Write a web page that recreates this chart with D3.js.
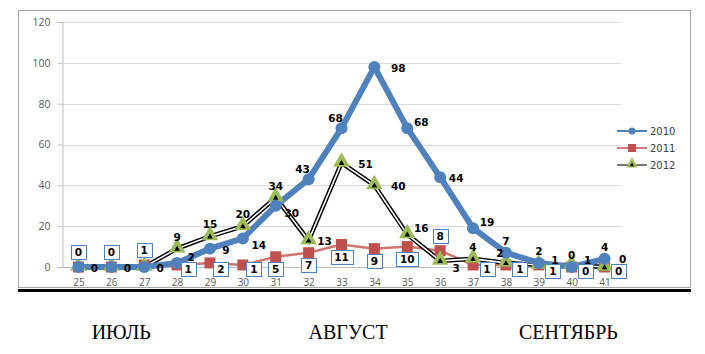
<!DOCTYPE html>
<html>
<head>
<meta charset="utf-8">
<script src="https://cdn.jsdelivr.net/npm/d3@7"></script>
<style>
  body { margin: 0; background: #fff; }
  svg text { font-family: "DejaVu Sans", Verdana, sans-serif; }
</style>
</head>
<body>
<div id="chart"></div>
<script>
// data
var weeks = [25, 26, 27, 28, 29, 30, 31, 32, 33, 34, 35, 36, 37, 38, 39, 40, 41];
var y2010 = [0, 0, 0, 2, 9, 14, 30, 43, 68, 98, 68, 44, 19, 7, 2, 0, 4];
var y2011 = [0, 0, 1, 1, 2, 1, 5, 7, 11, 9, 10, 8, 1, 1, 1, 0, 0];
var y2012 = [0, 0, 0, 9, 15, 20, 34, 13, 51, 40, 16, 3, 4, 2, 1, 1, 0];
var yTicks = [0, 20, 40, 60, 80, 100, 120];
var seriesNames = ["2010", "2011", "2012"];
var months = ["ИЮЛЬ", "АВГУСТ", "СЕНТЯБРЬ"];
var monthWeeks = [26.3, 33.2, 39.9];

// where each data label sits relative to its point
var pos2010 = ["n", "n", "n", "ar", "r", "br", "br", "al", "al", "rr", "ar", "r", "ar", "a", "a", "a", "a"];
var pos2011 = ["a", "a", "a", "br", "br", "br", "b", "b", "b", "b", "b", "a", "br", "br", "br", "br", "br"];
var pos2012 = ["r", "r", "r", "a", "a", "a", "a", "r", "rr", "rr", "ar", "br", "a", "al", "ru", "ru", "rx"];

var W = 705, H = 354;

var svg = d3.select("#chart").append("svg")
    .attr("width", W)
    .attr("height", H);

var x = d3.scalePoint()
    .domain(weeks)
    .range([62, 621])
    .padding(0.5);

var y = d3.scaleLinear()
    .domain([0, 120])
    .range([267, 22]);

// outer frame
svg.append("rect")
    .attr("x", 18.5).attr("y", 10.5)
    .attr("width", 672).attr("height", 277)
    .attr("fill", "#fff")
    .attr("stroke", "#a6a6a6");

svg.append("line")
    .attr("x1", 18).attr("x2", 691)
    .attr("y1", 290.5).attr("y2", 290.5)
    .attr("stroke", "#000")
    .attr("stroke-width", 3);

// grid
svg.append("g")
    .selectAll("line")
    .data(yTicks.slice(1))
    .enter().append("line")
    .attr("x1", 62).attr("x2", 621)
    .attr("y1", function (d) { return Math.round(y(d)) + 0.5; })
    .attr("y2", function (d) { return Math.round(y(d)) + 0.5; })
    .attr("stroke", "#d9d9d9")
    .attr("stroke-width", 1.2);

// y axis
var yAxis = svg.append("g")
    .attr("transform", "translate(62.5,0)")
    .call(d3.axisLeft(y).tickValues(yTicks).tickSize(5).tickPadding(7));
yAxis.select(".domain").attr("stroke", "#bfbfbf");
yAxis.selectAll(".tick line").attr("stroke", "#bfbfbf");
yAxis.selectAll("text")
    .attr("fill", "#595959")
    .style("font-family", "'Open Sans', sans-serif")
    .style("font-size", "10.5px");

// x axis
var xAxis = svg.append("g")
    .attr("transform", "translate(0," + (Math.round(y(0)) + 0.5) + ")")
    .call(d3.axisBottom(x).tickSize(0).tickPadding(11));
xAxis.select(".domain").attr("stroke", "#bfbfbf").attr("d", "M62,0H621");
xAxis.selectAll("text")
    .attr("fill", "#595959")
    .style("font-family", "'Open Sans', sans-serif")
    .style("font-size", "10px");

function pts(vals) {
    return vals.map(function (v, i) { return [x(weeks[i]), y(v)]; });
}
var line = d3.line();

// 2011 (red)
svg.append("path")
    .attr("d", line(pts(y2011)))
    .attr("fill", "none")
    .attr("stroke", "#d07470")
    .attr("stroke-width", 2.5);

// 2012 (double black line)
svg.append("path")
    .attr("d", line(pts(y2012)))
    .attr("fill", "none")
    .attr("stroke", "#000")
    .attr("stroke-width", 4.5);
svg.append("path")
    .attr("d", line(pts(y2012)))
    .attr("fill", "none")
    .attr("stroke", "#fff")
    .attr("stroke-width", 1.6);

// 2010 (blue)
svg.append("path")
    .attr("d", line(pts(y2010)))
    .attr("fill", "none")
    .attr("stroke", "#4f81bd")
    .attr("stroke-width", 6)
    .attr("stroke-linejoin", "round");

// markers
svg.append("g").selectAll("rect")
    .data(y2011)
    .enter().append("rect")
    .attr("x", function (d, i) { return x(weeks[i]) - 5.5; })
    .attr("y", function (d) { return y(d) - 5.5; })
    .attr("width", 11).attr("height", 11)
    .attr("fill", "#c0504d");

var tri = d3.symbol().type(d3.symbolTriangle);
svg.append("g").selectAll("path")
    .data(y2012)
    .enter().append("path")
    .attr("transform", function (d, i) { return "translate(" + x(weeks[i]) + "," + (y(d) - 1) + ")"; })
    .attr("d", tri.size(120)())
    .attr("fill", "#9bbb59");
svg.append("g").selectAll("path")
    .data(y2012)
    .enter().append("path")
    .attr("transform", function (d, i) { return "translate(" + x(weeks[i]) + "," + (y(d) + 0.5) + ")"; })
    .attr("d", tri.size(14)())
    .attr("fill", "#000");

svg.append("g").selectAll("circle")
    .data(y2010)
    .enter().append("circle")
    .attr("cx", function (d, i) { return x(weeks[i]); })
    .attr("cy", function (d) { return y(d); })
    .attr("r", 6)
    .attr("fill", "#4f81bd");

// labels
var off = {
    n: null,
    a: [0, -12], r: [16, 1], rr: [24, 1], ru: [16, -5], rx: [18, -8],
    br: [16, 7], ar: [14, -6], al: [-6, -10], b: [0, 13]
};
function labels(vals, p) {
    var g = svg.append("g");
    vals.forEach(function (v, i) {
        var o = off[p[i]];
        if (!o) return;
        g.append("text")
            .attr("x", x(weeks[i]) + o[0])
            .attr("y", y(v) + o[1] + 4)
            .attr("text-anchor", "middle")
            .style("font-size", "10.5px")
            .style("font-weight", "bold")
            .attr("fill", "#000")
            .text(v);
    });
}
labels(y2010, pos2010);

// boxed 2011 labels
var boff = { a: [0, -15], b: [0, 12], br: [11, 2] };
var bg = svg.append("g");
y2011.forEach(function (v, i) {
    var o = boff[pos2011[i]];
    var dx = (pos2011[i] === "br" && weeks[i] > 36) ? o[0] + 3 : o[0];
    var dy = (pos2011[i] === "br" && weeks[i] > 38) ? o[1] + 2 : o[1];
    var cx = x(weeks[i]) + dx;
    var cy = (pos2011[i] === "br") ? y(0) + dy : y(v) + dy;
    var w = String(v).length > 1 ? 22 : 15;
    bg.append("rect")
        .attr("x", Math.round(cx - w / 2) + 0.5)
        .attr("y", Math.round(cy - 7) + 0.5)
        .attr("width", w).attr("height", 14)
        .attr("fill", "#fff")
        .attr("stroke", "#4f81bd")
        .attr("stroke-width", 1);
    bg.append("text")
        .attr("x", cx).attr("y", cy + 4)
        .attr("text-anchor", "middle")
        .style("font-size", "10.5px")
        .style("font-weight", "bold")
        .text(v);
});

labels(y2012, pos2012);

// legend
var legColors = ["#4f81bd", "#c0504d", "#4a4a4a"];
var leg = svg.append("g");
seriesNames.forEach(function (s, i) {
    var ly = 131 + i * 17;
    leg.append("line")
        .attr("x1", 617).attr("x2", 647)
        .attr("y1", ly).attr("y2", ly)
        .attr("stroke", legColors[i])
        .attr("stroke-width", i === 0 ? 2 : 1.5);
    if (i === 0) {
        leg.append("circle").attr("cx", 632).attr("cy", ly).attr("r", 3.5).attr("fill", "#4f81bd");
    } else if (i === 1) {
        leg.append("rect").attr("x", 628).attr("y", ly - 4).attr("width", 8).attr("height", 8).attr("fill", "#c0504d");
    } else {
        leg.append("path").attr("transform", "translate(632," + (ly - 1) + ")").attr("d", tri.size(60)()).attr("fill", "#9bbb59");
        leg.append("path").attr("transform", "translate(632," + ly + ")").attr("d", tri.size(8)()).attr("fill", "#000");
    }
    leg.append("text")
        .attr("x", 650).attr("y", ly + 4)
        .attr("fill", "#404040")
        .style("font-size", "10px")
        .text(s);
});

// months
svg.append("g").selectAll("text")
    .data(months)
    .enter().append("text")
    .attr("x", function (d, i) { return x(weeks[0]) + (monthWeeks[i] - weeks[0]) * x.step(); })
    .attr("y", 339)
    .attr("text-anchor", "middle")
    .style("font-family", "'Liberation Serif', 'Times New Roman', serif")
    .style("font-size", "20px")
    .text(function (d) { return d; });
</script>
</body>
</html>
